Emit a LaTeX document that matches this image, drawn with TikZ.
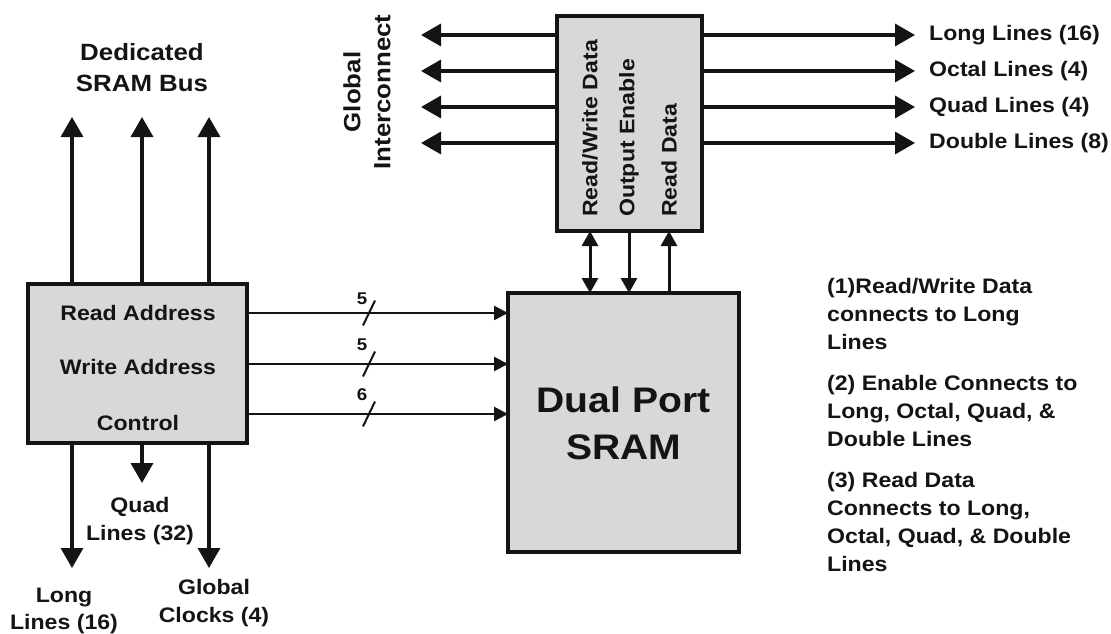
\documentclass[tikz,border=0pt]{standalone}
\usepackage{fontspec}
\setmainfont{Liberation Sans}[FakeStretch=1.1]
\usetikzlibrary{arrows.meta}
\definecolor{boxgray}{RGB}{216,216,216}
\definecolor{ink}{RGB}{20,20,20}

\begin{document}
\begin{tikzpicture}[x=1pt,y=-1pt,
  box/.style={draw=ink, line width=3.5pt, fill=boxgray, inner sep=0pt, outer sep=0pt},
  txt/.style={inner sep=0pt, text=ink, font=\fontsize{21}{28}\selectfont\bfseries},
  bigtxt/.style={inner sep=0pt, text=ink, font=\fontsize{23.5}{31}\selectfont\bfseries},
  numtxt/.style={inner sep=0pt, text=ink, font=\fontsize{17}{20}\selectfont\bfseries},
  bigarrow/.style={draw=ink, line width=3.5pt, -{Triangle[length=20pt,width=22pt]}},
  midarrow/.style={draw=ink, line width=3pt, -{Triangle[length=15pt,width=16pt]}},
  midboth/.style={draw=ink, line width=3pt, {Triangle[length=15pt,width=16pt]}-{Triangle[length=15pt,width=16pt]}},
  inarrow/.style={draw=ink, line width=2.5pt, -{Triangle[length=14pt,width=14pt]}},
  busslash/.style={draw=ink, line width=2pt}]
\useasboundingbox[fill=white] (0,0) rectangle (1111,634);

% ---- blocks ----
\node[box, minimum width=219pt, minimum height=159pt] (lb) at (137.5,363.5) {};
\node[box, minimum width=145pt, minimum height=215pt] (tb) at (629.5,123.5) {};
\node[box, minimum width=231pt, minimum height=259pt] (sram) at (623.5,422.5) {};

% ---- block texts ----
\node[txt] (ra) at (138,313) {Read Address};
\node[txt] (wa) at (138,367) {Write Address};
\node[txt] (ctl) at (138,423) {Control};
\node[inner sep=0pt, text=ink, align=center, font=\fontsize{35.5}{47}\selectfont\bfseries] (sramtxt) at (623.5,423.5) {Dual Port\\SRAM};
\node[txt, rotate=90, anchor=west] (rwd) at (590,217) {Read/Write Data};
\node[txt, rotate=90, anchor=west] (oen) at (629,217) {Output Enable};
\node[txt, rotate=90, anchor=west] (rdd) at (669,217) {Read Data};

% ---- outer labels ----
\node[bigtxt, align=center, anchor=north] (ded) at (142,43.6) {Dedicated\\SRAM Bus};
\node[bigtxt, align=center, rotate=90, font=\fontsize{23.5}{30}\selectfont\bfseries] (gi) at (367,92) {Global\\Interconnect};
\node[txt, align=center, anchor=north] (quad) at (140,497.5) {Quad\\Lines (32)};
\node[txt, align=center, anchor=north, font=\fontsize{21}{27}\selectfont\bfseries] (long) at (64,587.5) {Long\\Lines (16)};
\node[txt, align=center, anchor=north] (gclk) at (214,579.5) {Global\\Clocks (4)};

\node[txt, anchor=west] (r1) at (929,35) {Long Lines (16)};
\node[txt, anchor=west] (r2) at (929,71) {Octal Lines (4)};
\node[txt, anchor=west] (r3) at (929,107) {Quad Lines (4)};
\node[txt, anchor=west] (r4) at (929,143) {Double Lines (8)};

\node[txt, align=left, anchor=north west] (n1) at (827,278) {(1)Read/Write Data\\connects to Long\\Lines};
\node[txt, align=left, anchor=north west] (n2) at (827,375) {(2) Enable Connects to\\Long, Octal, Quad, \&\\Double Lines};
\node[txt, align=left, anchor=north west] (n3) at (827,472) {(3) Read Data\\Connects to Long,\\Octal, Quad, \& Double\\Lines};

% ---- free ends of connectors ----
\coordinate (up1) at (72,117);
\coordinate (up2) at (142,117);
\coordinate (up3) at (209,117);
\coordinate (dn1) at (72,568);
\coordinate (dn2) at (142,483);
\coordinate (dn3) at (209,568);
\coordinate (gi1) at (421,35);
\coordinate (gi2) at (421,71);
\coordinate (gi3) at (421,107);
\coordinate (gi4) at (421,143);

% ---- dedicated bus and routing outputs of the address block ----
\draw[bigarrow] (up1 |- lb.north) -- (up1);
\draw[bigarrow] (up2 |- lb.north) -- (up2);
\draw[bigarrow] (up3 |- lb.north) -- (up3);
\draw[bigarrow] (dn1 |- lb.south) -- (dn1);
\draw[bigarrow] (dn2 |- lb.south) -- (dn2);
\draw[bigarrow] (dn3 |- lb.south) -- (dn3);

% ---- address / control buses into the SRAM ----
\draw[inarrow] (lb.east |- 0,313) -- (sram.west |- 0,313);
\draw[inarrow] (lb.east |- 0,364) -- (sram.west |- 0,364);
\draw[inarrow] (lb.east |- 0,414) -- (sram.west |- 0,414);
\draw[busslash] (369,313) ++(-6,12.5) -- ++(12,-25);
\draw[busslash] (369,364) ++(-6,12.5) -- ++(12,-25);
\draw[busslash] (369,414) ++(-6,12.5) -- ++(12,-25);
\node[numtxt] (w1) at (362,299) {5};
\node[numtxt] (w2) at (362,345) {5};
\node[numtxt] (w3) at (362,395) {6};

% ---- data port to the interconnect block ----
\draw[midboth] (590,0 |- tb.south) -- (590,0 |- sram.north);
\draw[midarrow] (629,0 |- tb.south) -- (629,0 |- sram.north);
\draw[midarrow] (669,0 |- sram.north) -- (669,0 |- tb.south);

% ---- global interconnect ----
\draw[bigarrow] (tb.west |- gi1) -- (gi1);
\draw[bigarrow] (tb.west |- gi2) -- (gi2);
\draw[bigarrow] (tb.west |- gi3) -- (gi3);
\draw[bigarrow] (tb.west |- gi4) -- (gi4);
\draw[bigarrow, shorten >=14pt] (tb.east |- gi1) -- (r1.west |- gi1);
\draw[bigarrow, shorten >=14pt] (tb.east |- gi2) -- (r2.west |- gi2);
\draw[bigarrow, shorten >=14pt] (tb.east |- gi3) -- (r3.west |- gi3);
\draw[bigarrow, shorten >=14pt] (tb.east |- gi4) -- (r4.west |- gi4);
\end{tikzpicture}
\end{document}
